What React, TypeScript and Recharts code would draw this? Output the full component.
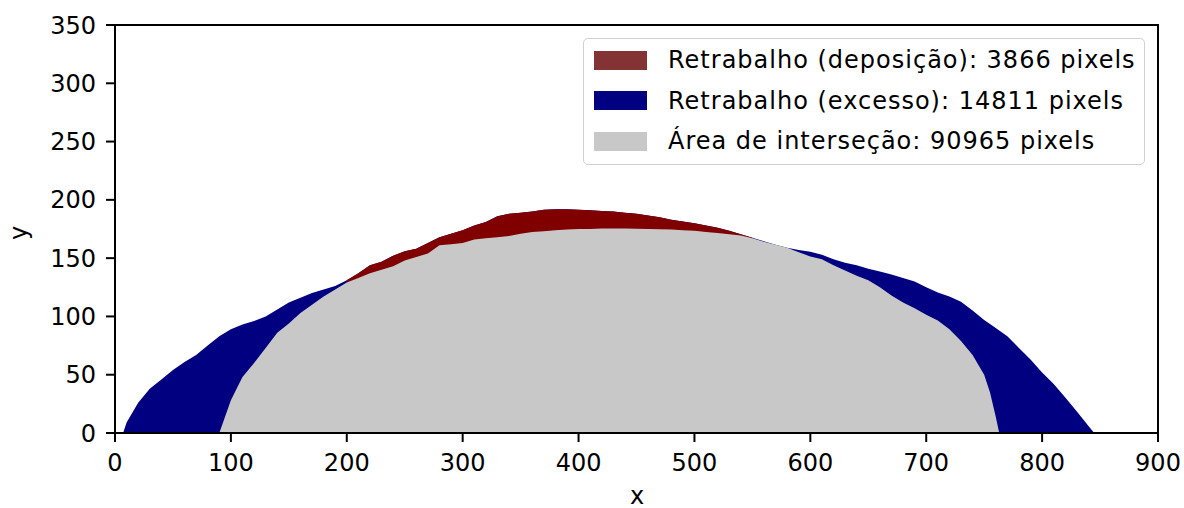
import { Area, ComposedChart, ReferenceArea, XAxis, YAxis } from "recharts";

// sampled x positions (pixel columns of the mask, in data units)
const xValues = [
  7, 10, 20, 30, 40, 50, 60, 70, 80, 90, 100, 110, 120, 130, 140, 150, 160, 170, 180, 190, 200, 210, 220,
  230, 240, 250, 260, 270, 280, 290, 300, 310, 320, 330, 340, 350, 360, 370, 380, 390, 400, 410, 420, 430,
  440, 450, 460, 470, 480, 490, 500, 510, 520, 530, 540, 550, 560, 570, 580, 590, 600, 610, 620, 630, 640,
  650, 660, 670, 680, 690, 700, 710, 720, 730, 740, 750, 755, 760, 763, 770, 780, 790, 800, 810, 820, 830,
  840, 845,
];

// outer contour (excesso shows where it sits above the intersection)
const excessoTop = [
  0, 9, 26, 38, 46, 54, 61, 67, 75, 83, 89, 93, 96, 100, 106, 112, 116, 120, 123, 126, 131, 137, 144, 147,
  152, 156, 158, 163, 168, 171, 174, 178, 181, 186, 188, 189, 190, 191.5, 192, 192, 191.5, 191, 190.5, 190,
  189, 188, 186.5, 185, 183, 181.5, 180, 178, 176, 173.5, 170.5, 167.5, 164.5, 161.5, 159, 157, 155.5, 153,
  149, 146, 144, 141, 138.5, 136, 133, 130, 125, 120.5, 117, 112.5, 105, 97, 93.5, 90, 88, 83, 73, 63, 52,
  42, 30.5, 18.5, 6, 0,
];

// deposition band: same outer contour, only over the top of the bead
const deposicaoTop = [
  null, null, null, null, null, null, null, null, null, null, null, null, null, null, null, null, null, null,
  null, null, 131, 137, 144, 147, 152, 156, 158, 163, 168, 171, 174, 178, 181, 186, 188, 189, 190, 191.5, 192,
  192, 191.5, 191, 190.5, 190, 189, 188, 186.5, 185, 183, 181.5, 180, 178, 176, 173.5, 170.5, 167.5, null,
  null, null, null, null, null, null, null, null, null, null, null, null, null, null, null, null, null, null,
  null, null, null, null, null, null, null, null, null, null, null, null, null,
];

const intersecaoTop = [
  null, null, null, null, null, null, null, null, null, 0, 28, 48, 60, 73, 86, 94, 103, 110, 117, 123, 129,
  133, 137, 140, 143, 148, 151, 154, 161, 162, 163, 166, 167, 168, 169, 171, 172.5, 173, 174, 174.5, 175, 175,
  175.4, 175.5, 175.5, 175.3, 175, 174.8, 174.6, 174, 173.5, 172.5, 171.5, 170.5, 169.5, 167, 164, 161.5, 159,
  155, 151.5, 149, 144, 139.5, 135, 131, 125, 118, 112, 107, 101.5, 96.6, 89, 79, 67, 50, 35, 14, 0, null,
  null, null, null, null, null, null, null, null,
];

const xTicks = [0, 100, 200, 300, 400, 500, 600, 700, 800, 900];
const yTicks = [0, 50, 100, 150, 200, 250, 300, 350];

const legendItems = [
  { label: "Retrabalho (deposição): 3866 pixels", color: "#833333" },
  { label: "Retrabalho (excesso): 14811 pixels", color: "#000080" },
  { label: "Área de interseção: 90965 pixels", color: "#c8c8c8" },
];

const FONT = "DejaVu Sans";
const tickStyle = { fontSize: 24, fill: "#000", fontFamily: FONT };

export default function App() {
  const data = xValues.map((x, i) => ({
    x,
    excesso: excessoTop[i],
    deposicao: deposicaoTop[i],
    intersecao: intersecaoTop[i],
  }));

  return (
    <div style={{ position: "absolute", left: 0, top: 0, width: 1184, height: 508, background: "#fff" }}>
      <ComposedChart width={1184} height={508} data={data} margin={{ top: 25, right: 26, bottom: 35, left: 55 }}>
        <XAxis
          dataKey="x"
          type="number"
          domain={[0, 900]}
          ticks={xTicks}
          height={40}
          tickSize={9}
          tickMargin={12}
          tick={tickStyle}
          axisLine={{ stroke: "#000", strokeWidth: 2 }}
          tickLine={{ stroke: "#000", strokeWidth: 2 }}
          allowDataOverflow
        />
        <YAxis
          type="number"
          domain={[0, 350]}
          ticks={yTicks}
          width={60}
          tickSize={9}
          tickMargin={10}
          tick={tickStyle}
          axisLine={{ stroke: "#000", strokeWidth: 2 }}
          tickLine={{ stroke: "#000", strokeWidth: 2 }}
          allowDataOverflow
        />
        <Area
          dataKey="excesso"
          type="linear"
          stroke="none"
          fill="#000080"
          fillOpacity={1}
          isAnimationActive={false}
        />
        <Area
          dataKey="deposicao"
          type="linear"
          stroke="none"
          fill="#800000"
          fillOpacity={1}
          isAnimationActive={false}
        />
        <Area
          dataKey="intersecao"
          type="linear"
          stroke="none"
          fill="#c8c8c8"
          fillOpacity={1}
          isAnimationActive={false}
        />
        <ReferenceArea x1={0} x2={900} y1={0} y2={350} fill="none" stroke="#000" strokeWidth={2} />
      </ComposedChart>

      {/* legend box, upper right like matplotlib's */}
      <div
        style={{
          position: "absolute",
          left: 583,
          top: 38,
          width: 560,
          height: 125,
          border: "1.5px solid #d0d0d0",
          borderRadius: 5,
          background: "rgba(255,255,255,0.8)",
          fontFamily: FONT,
          fontSize: 24,
          color: "#000",
        }}
      >
        {legendItems.map((item, i) => (
          <div
            key={item.label}
            style={{ position: "absolute", left: 10, top: 11 + i * 40.5, height: 20, display: "flex", alignItems: "center" }}
          >
            <span style={{ width: 53, height: 19, background: item.color, display: "inline-block" }} />
            <span style={{ marginLeft: 21, whiteSpace: "nowrap", lineHeight: "20px", letterSpacing: 1 }}>{item.label}</span>
          </div>
        ))}
      </div>

      <div style={{ position: "absolute", left: 626, top: 482, width: 22, textAlign: "center", fontFamily: FONT, fontSize: 24 }}>
        x
      </div>
      <div
        style={{
          position: "absolute",
          left: 8,
          top: 218,
          width: 22,
          height: 30,
          textAlign: "center",
          fontFamily: FONT,
          fontSize: 24,
          lineHeight: "30px",
          transform: "rotate(-90deg)",
        }}
      >
        y
      </div>
    </div>
  );
}
